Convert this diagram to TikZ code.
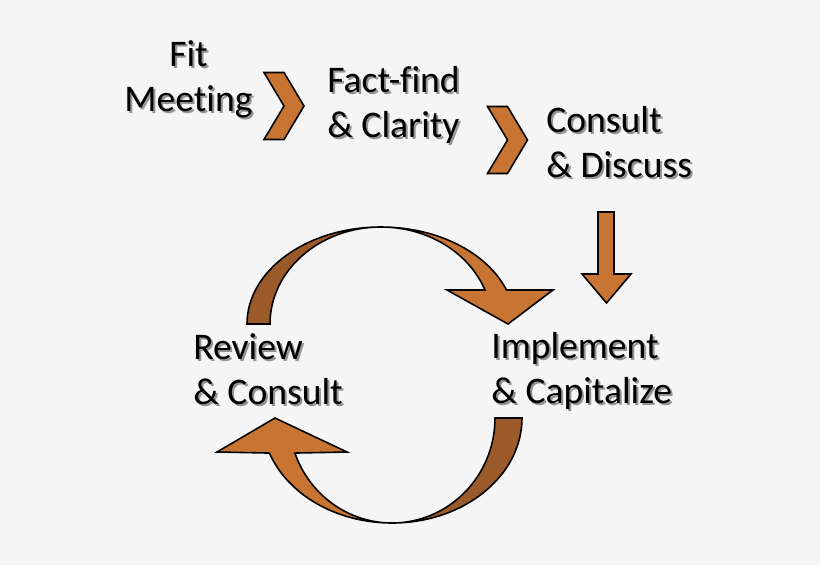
\documentclass[tikz,border=0pt]{standalone}
\usepackage{fontspec}
\setmainfont{Carlito}[Ligatures=NoCommon]
\usetikzlibrary{calc,positioning}

\definecolor{bgcol}{HTML}{F5F5F5}
\definecolor{rust}{HTML}{C87533}
\definecolor{rustdark}{HTML}{9A5A2A}

\begin{document}
\begin{tikzpicture}[%
    x=0.02cm, y=-0.02cm,
    steptext/.style={inner sep=0pt, font=\fontsize{21.4}{25.5}\selectfont},
    shadowtext/.style={steptext, text=black!42},
    band/.style={draw=black, line width=0.9pt, line join=miter, fill=rust},
    backband/.style={band, fill=rustdark}
  ]
  \fill[bgcol] (0,0) rectangle (820,565);
  \useasboundingbox (0,0) rectangle (820,565);

  % chevrons and down arrow
  \coordinate (chev1) at (264,72.5);
  \coordinate (chev2) at (487.5,106.5);
  \foreach \c in {chev1,chev2}
    \draw[band] (\c) -- ++(20,0) -- ++(20,33.5) -- ++(-20,33.5) -- ++(-20,0) -- ++(20,-33.5) -- cycle;
  \draw[band] (598,212) -- (614,212) -- (614,274) -- (631,274) -- (606.5,303) -- (582,274) -- (598,274) -- cycle;

  % circular arrows
  \coordinate (cT) at (381,324);
  \coordinate (cB) at (392,418);
  \draw[backband] (cT) ++(180:134 and 97) arc[start angle=180, end angle=270, x radius=134, y radius=97]
    arc[start angle=270, end angle=180, x radius=111, y radius=97] -- cycle;
  \draw[band] (cT) ++(270:134 and 97) arc[start angle=270, end angle=339.5, x radius=134, y radius=97]
    -- (553,290) -- (508,324) -- (447,290) -- ($(cT)+(339.5:111 and 97)$)
    arc[start angle=339.5, end angle=270, x radius=111, y radius=97] -- cycle;
  \draw[backband] (cB) ++(0:130 and 105) arc[start angle=0, end angle=90, x radius=130, y radius=105]
    arc[start angle=90, end angle=0, x radius=103, y radius=105] -- cycle;
  \draw[band] (cB) ++(90:130 and 105) arc[start angle=90, end angle=160.5, x radius=130, y radius=105]
    -- (217,452) -- (275,418) -- (347,452) -- ($(cB)+(160.5:103 and 105)$)
    arc[start angle=160.5, end angle=90, x radius=103, y radius=105] -- cycle;

  % labels with drop shadow
  \foreach \nm/\px/\py/\al/\anc/\txt in {%
      fit/188.5/111/center/base/{Fit\\Meeting},
      fact/327/137/left/base west/{Fact-find\\\& Clarity},
      consult/546/177/left/base west/{Consult\\\& Discuss},
      implement/491/403/left/base west/{Implement\\\& Capitalize},
      review/193/404/left/base west/{Review\\\& Consult}}{
    \node[shadowtext, align=\al, anchor=\anc] at (\px+2,\py+2) {\txt};
    \node[steptext, align=\al, anchor=\anc] (\nm) at (\px,\py) {\txt};
  }
\end{tikzpicture}
\end{document}
